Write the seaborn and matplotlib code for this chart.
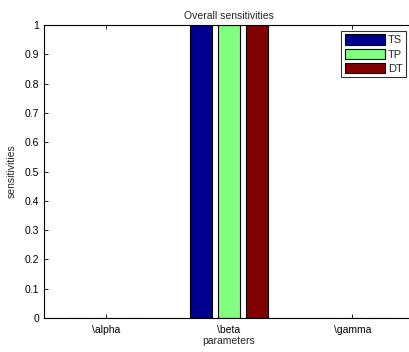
import matplotlib
matplotlib.use("Agg")
import matplotlib.pyplot as plt
import seaborn as sns
import pandas as pd
import numpy as np

categories = ["\\alpha", "\\beta", "\\gamma"]
series = ["TS", "TP", "DT"]
ts_vals = [0.0, 1.0, 0.0]
tp_vals = [0.0, 1.0, 0.0]
dt_vals = [0.0, 1.0, 0.0]
colors = ["#000090", "#80FF80", "#800000"]

rows = []
for s, vals in zip(series, [ts_vals, tp_vals, dt_vals]):
    for c, v in zip(categories, vals):
        rows.append({"parameters": c, "series": s, "value": v})
df = pd.DataFrame(rows)

sns.set_style("white")
plt.rcParams["font.family"] = ["Liberation Sans", "DejaVu Sans"]

fig = plt.figure(figsize=(4.10, 3.52), dpi=100)
ax = fig.add_axes([44/410, 1-318/352, 370/410, 293/352])

sns.barplot(data=df, x="parameters", y="value", hue="series", palette=colors,
            width=0.67, gap=0.2, edgecolor="black", linewidth=0.8,
            ax=ax, legend=True, saturation=1)

ax.set_xlim(-0.5, 2.5)
ax.set_ylim(0, 1)
ax.set_yticks(np.arange(0, 1.01, 0.1))
ax.set_yticklabels(["0", "0.1", "0.2", "0.3", "0.4", "0.5", "0.6", "0.7", "0.8", "0.9", "1"])
ax.tick_params(direction="in", length=3, labelsize=7.5, top=True, right=True,
               left=True, bottom=True, width=0.6, colors="black")
ax.tick_params(axis="x", pad=5)
for sp in ax.spines.values():
    sp.set_visible(True)
    sp.set_color("black")
    sp.set_linewidth(0.8)
ax.set_title("Overall sensitivities", fontsize=7.5, pad=4)
ax.set_xlabel("parameters", fontsize=7.5, labelpad=1)
ax.set_ylabel("sensitivities", fontsize=7.5, labelpad=6)

leg = ax.legend(loc="upper right", bbox_to_anchor=(406/410, 1-31/352), bbox_transform=fig.transFigure,
                fontsize=8, frameon=True, fancybox=False, edgecolor="black",
                handlelength=3.6, handleheight=1.05, handletextpad=0.3,
                labelspacing=0.3, borderpad=0.3, borderaxespad=0)
leg.get_frame().set_linewidth(0.8)

fig.savefig("out.png", dpi=100)
